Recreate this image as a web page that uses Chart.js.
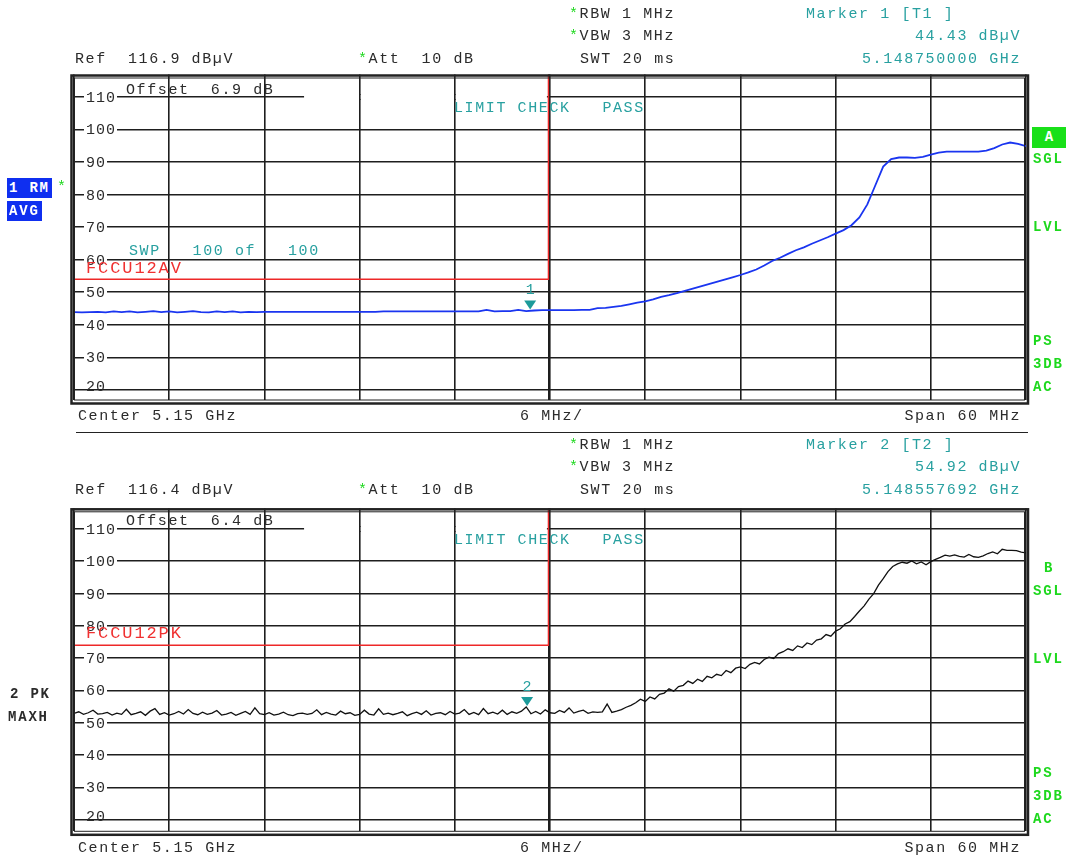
<!DOCTYPE html>
<html>
<head>
<meta charset="utf-8">
<script src="https://cdn.jsdelivr.net/npm/chart.js@4.4.1/dist/chart.umd.min.js"></script>
<style>
body { margin: 0; background: #fff; }
#screen { position: relative; width: 1068px; height: 861px; overflow: hidden; background: #fff; }
canvas { position: absolute; left: 0; }
.t { position: absolute; white-space: pre; font: 15px "Liberation Mono", monospace; letter-spacing: 1.6px; line-height: 16px; color: #2b2b2b; z-index: 2; }
.g { color: #1ed81e; }
.c { color: #28a0a0; }
.r { color: #f03030; font-size: 17px; letter-spacing: 1.9px; line-height: 18px; }
.s { font-weight: bold; font-size: 14px; letter-spacing: 1.8px; }
.box { background: #0f2ff0; color: #fff; padding: 0 2px; height: 20px; line-height: 20px; }
.gbox { background: #19e019; color: #fff; width: 34px; height: 21px; line-height: 21px; text-align: center; letter-spacing: 0; }
.sep { position: absolute; left: 76px; width: 952px; border-top: 1.6px solid #222; }
</style>
</head>
<body>
<div id="screen">
  <canvas id="trace1" width="1068" height="430" style="top:0"></canvas>
  <canvas id="trace2" width="1068" height="431" style="top:430px"></canvas>

  <!-- screen A: RMS average -->
  <div class="t" style="left:569px;top:7px"><span class="g">*</span>RBW 1 MHz</div>
  <div class="t" style="left:569px;top:29px"><span class="g">*</span>VBW 3 MHz</div>
  <div class="t" style="left:580px;top:52px">SWT 20 ms</div>
  <div class="t" style="left:75px;top:52px">Ref  116.9 dBµV</div>
  <div class="t" style="left:358px;top:52px"><span class="g">*</span>Att  10 dB</div>
  <div class="t c" style="left:806px;top:7px">Marker 1 [T1 ]</div>
  <div class="t c" style="right:47px;top:29px">44.43 dBµV</div>
  <div class="t c" style="right:47px;top:52px">5.148750000 GHz</div>
  <div class="t" style="left:126px;top:83px">Offset  6.9 dB</div>
  <div class="t c" style="left:454px;top:101px">LIMIT CHECK   PASS</div>
  <div class="t c" style="left:129px;top:244px">SWP   100 of   100</div>
  <div class="t r" style="left:86px;top:260px">FCCU12AV</div>
  <div class="t s box" style="left:7px;top:178px">1 RM</div>
  <div class="t s box" style="left:7px;top:201px">AVG</div>
  <div class="t g" style="left:57px;top:180px">*</div>
  <div class="t s gbox" style="left:1032px;top:127px">A</div>
  <div class="t s g" style="left:1033px;top:151px">SGL</div>
  <div class="t s g" style="left:1033px;top:219px">LVL</div>
  <div class="t s g" style="left:1033px;top:333px">PS</div>
  <div class="t s g" style="left:1033px;top:356px">3DB</div>
  <div class="t s g" style="left:1033px;top:379px">AC</div>
  <div class="t" style="left:78px;top:409px">Center 5.15 GHz</div>
  <div class="t" style="left:520px;top:409px">6 MHz/</div>
  <div class="t" style="right:47px;top:409px">Span 60 MHz</div>
  <div class="sep" style="top:432px"></div>

  <!-- screen B: max hold peak -->
  <div class="t" style="left:569px;top:438px"><span class="g">*</span>RBW 1 MHz</div>
  <div class="t" style="left:569px;top:460px"><span class="g">*</span>VBW 3 MHz</div>
  <div class="t" style="left:580px;top:483px">SWT 20 ms</div>
  <div class="t" style="left:75px;top:483px">Ref  116.4 dBµV</div>
  <div class="t" style="left:358px;top:483px"><span class="g">*</span>Att  10 dB</div>
  <div class="t c" style="left:806px;top:438px">Marker 2 [T2 ]</div>
  <div class="t c" style="right:47px;top:460px">54.92 dBµV</div>
  <div class="t c" style="right:47px;top:483px">5.148557692 GHz</div>
  <div class="t" style="left:126px;top:514px">Offset  6.4 dB</div>
  <div class="t c" style="left:454px;top:533px">LIMIT CHECK   PASS</div>
  <div class="t r" style="left:86px;top:625px">FCCU12PK</div>
  <div class="t s" style="left:10px;top:686px">2 PK</div>
  <div class="t s" style="left:8px;top:709px">MAXH</div>
  <div class="t s g" style="left:1044px;top:560px">B</div>
  <div class="t s g" style="left:1033px;top:583px">SGL</div>
  <div class="t s g" style="left:1033px;top:651px">LVL</div>
  <div class="t s g" style="left:1033px;top:765px">PS</div>
  <div class="t s g" style="left:1033px;top:788px">3DB</div>
  <div class="t s g" style="left:1033px;top:811px">AC</div>
  <div class="t" style="left:78px;top:841px">Center 5.15 GHz</div>
  <div class="t" style="left:520px;top:841px">6 MHz/</div>
  <div class="t" style="right:47px;top:841px">Span 60 MHz</div>
</div>

<script>
'use strict'

// sweep: offset from 5.15 GHz centre, MHz
var spanStart = -30;
var spanStop = 30;
var xGrid = [-30, -24, -18, -12, -6, 0, 6, 12, 18, 24, 30];
var levelTicks = [20, 30, 40, 50, 60, 70, 80, 90, 100, 110];

// trace 1, RMS average, dBµV (0.5 MHz steps)
var avgTrace = [
	43.9, 43.8, 43.9, 44.0, 43.8, 44.1, 43.9, 44.1, 43.8, 44.0, 44.2, 43.9, 44.1, 43.8, 44.0, 44.2, 43.9, 43.8, 44.1, 43.9,
	44.1, 43.8, 44.0, 43.9, 44.0, 44.0, 44.0, 44.0, 44.0, 44.0, 44.0, 44.0, 44.0, 44.0, 44.0, 44.0, 44.0, 44.0, 44.0, 44.1,
	44.1, 44.1, 44.1, 44.1, 44.1, 44.1, 44.1, 44.1, 44.1, 44.1, 44.1, 44.1, 44.6, 44.1, 44.2, 44.2, 44.6, 44.2, 44.4, 44.5,
	44.5, 44.5, 44.5, 44.5, 44.6, 44.6, 45.1, 45.2, 45.5, 45.8, 46.3, 46.8, 47.2, 47.8, 48.6, 49.1, 49.7, 50.4, 51.1, 51.8,
	52.5, 53.2, 53.9, 54.6, 55.3, 56.1, 57.0, 58.2, 59.6, 60.6, 61.8, 62.9, 63.8, 64.9, 65.9, 66.9, 68.0, 69.1, 70.6, 73.0,
	77.0, 82.8, 88.6, 90.9, 91.4, 91.4, 91.3, 91.6, 92.3, 92.9, 93.2, 93.2, 93.2, 93.2, 93.2, 93.5, 94.3, 95.4, 96.0, 95.6, 94.9
];

// trace 2, max hold peak, dBµV (0.3 MHz steps)
var pkTrace = [
	52.9, 53.4, 52.6, 53.1, 53.9, 52.7, 52.8, 53.2, 52.4, 53.0,
	52.6, 54.2, 52.5, 52.9, 53.4, 52.3, 53.6, 54.4, 52.6, 53.1,
	52.4, 52.8, 53.5, 52.7, 54.1, 52.9, 52.5, 53.3, 52.6, 53.0,
	53.8, 52.4, 52.7, 53.2, 52.3, 52.9, 53.5, 52.6, 54.6, 52.8,
	52.5, 53.1, 52.4, 52.7, 53.3, 52.5, 52.2, 52.8, 53.0, 52.6,
	52.9, 54.0, 52.5, 53.2, 52.7, 52.4, 53.6, 52.8, 53.1, 52.3,
	52.6, 53.9, 52.7, 52.4, 54.3, 52.6, 53.0, 52.5, 52.9, 53.4,
	52.2, 52.8, 53.3, 52.6, 53.7, 52.4, 52.9, 53.1, 52.5, 53.5,
	52.7, 53.0, 54.1, 52.6, 53.2, 52.5, 54.4, 52.8, 53.3, 52.7,
	53.9, 52.6, 53.4, 52.9, 53.6, 54.9, 52.8, 53.5, 52.7, 54.0,
	53.1, 52.9, 53.8, 53.2, 54.6, 53.0, 53.5, 53.9, 52.9, 53.4,
	53.2, 53.4, 55.8, 53.2,
	53.6, 54.1, 54.8, 55.4, 56.2, 57.3, 56.6, 58.0, 57.4, 58.8,
	59.2, 60.5, 59.8, 61.2, 61.6, 62.9, 62.2, 63.5, 62.8, 64.4,
	63.9, 65.0, 64.6, 66.2, 65.5, 66.9, 67.3, 66.8, 68.1, 68.7,
	68.2, 69.6, 70.3, 69.9, 71.4, 72.0, 72.9, 72.4, 73.8, 73.3,
	74.7, 74.2, 75.6, 76.0, 77.3, 76.8, 78.4, 79.1, 80.6, 81.3,
	82.9, 84.6, 86.2, 88.3, 90.0, 92.6, 94.6, 96.8, 98.4, 99.2,
	99.7, 99.4, 100.1, 99.2, 99.8, 98.9, 99.9, 100.6, 101.2, 101.9,
	101.6, 102.0, 101.5, 101.3, 102.1, 101.4, 101.2, 101.7, 102.4, 102.9,
	102.3, 103.7, 103.4, 103.4, 103.3, 102.8, 102.6
];

// limit lines (FCCU12AV / FCCU12PK) stop at the band edge
var limitEdge = -0.1;
var limitAv = 54;
var limitPk = 74;

// markers: MHz offset, dBµV
var marker1 = { freq: -1.25, level: 44.43, label: '1' };
var marker2 = { freq: -1.442308, level: 54.92, label: '2' };

var refLevel1 = 116.9;
var refLevel2 = 116.4;

var gridColor = '#1e1e1e';
var gridWidth = 1.6;

function sweepPoints(levels) {
	var step = (spanStop - spanStart) / (levels.length - 1);
	return levels.map(function(v, i) { return { x: spanStart + i * step, y: v }; });
}

var screenDeco = {
	id: 'screenDeco',
	beforeDatasetsDraw: function(chart) {
		var ctx = chart.ctx, a = chart.chartArea, x = chart.scales.x, y = chart.scales.y;
		ctx.save();
		// the 110 line is blanked between the offset box and the limit edge
		var yTop = y.getPixelForValue(levelTicks[levelTicks.length - 1]);
		var gapL = x.getPixelForValue(-15.5), gapR = x.getPixelForValue(limitEdge) - 1.5;
		ctx.fillStyle = '#fff';
		ctx.fillRect(gapL, yTop - 2, gapR - gapL, 4);
		// put back the verticals that cross the gap
		ctx.strokeStyle = gridColor;
		ctx.lineWidth = gridWidth;
		xGrid.forEach(function(v) {
			var px = x.getPixelForValue(v);
			if (px > gapL && px < gapR) {
				px = Math.round(px - gridWidth / 2) + gridWidth / 2;
				ctx.beginPath();
				ctx.moveTo(px, yTop - 3);
				ctx.lineTo(px, yTop + 3);
				ctx.stroke();
			}
		});

		// level labels inside the graticule
		ctx.font = '15px "Liberation Mono", monospace';
		if ('letterSpacing' in ctx) ctx.letterSpacing = '1px';
		ctx.textBaseline = 'middle';
		levelTicks.forEach(function(v, i) {
			var py = y.getPixelForValue(v) - (i === 0 ? 4 : 0);
			var txt = String(v);
			var w = ctx.measureText(txt).width;
			if (i > 0) {
				ctx.fillStyle = '#fff';
				ctx.fillRect(a.left + 10, py - 7, w + 3, 14);
			}
			ctx.fillStyle = '#2b2b2b';
			ctx.fillText(txt, a.left + 12, py + 1);
		});
		ctx.restore();
	},
	afterDatasetsDraw: function(chart, args, opts) {
		var ctx = chart.ctx, x = chart.scales.x, y = chart.scales.y;
		var m = opts.marker;
		var px = x.getPixelForValue(m.freq), py = y.getPixelForValue(m.level);
		ctx.save();
		ctx.fillStyle = '#1c9a9a';
		ctx.beginPath();
		ctx.moveTo(px - 6, py - 10);
		ctx.lineTo(px + 6, py - 10);
		ctx.lineTo(px, py - 1);
		ctx.closePath();
		ctx.fill();
		ctx.fillStyle = '#28a0a0';
		ctx.font = '15px "Liberation Mono", monospace';
		ctx.textAlign = 'center';
		ctx.textBaseline = 'middle';
		ctx.fillText(m.label, px, py - 20);
		ctx.restore();
	},
	afterDraw: function(chart) {
		// double frame
		var ctx = chart.ctx, a = chart.chartArea;
		ctx.save();
		ctx.strokeStyle = '#222';
		ctx.lineWidth = 2.5;
		ctx.strokeRect(a.left - 2.5, a.top + 1, a.right - a.left + 4.5, a.bottom - a.top + 2.5);
		ctx.lineWidth = 1;
		ctx.strokeRect(a.left + 0.5, a.top + 3.5, a.right - a.left - 2, a.bottom - a.top - 3.5);
		ctx.restore();
	}
};

function makeScreen(id, o) {
	return new Chart(document.getElementById(id), {
		type: 'line',
		data: {
			datasets: [{
				data: [{ x: spanStart, y: o.limit }, { x: limitEdge, y: o.limit }, { x: limitEdge, y: o.ref }],
				borderColor: '#ee2828',
				borderWidth: 1.4,
				pointRadius: 0
			}, {
				data: sweepPoints(o.levels),
				borderColor: o.color,
				borderWidth: o.width,
				pointRadius: 0,
				tension: 0
			}]
		},
		options: {
			responsive: false,
			animation: false,
			events: [],
			layout: { padding: o.pad },
			plugins: {
				legend: { display: false },
				tooltip: { enabled: false },
				screenDeco: { marker: o.marker }
			},
			scales: {
				x: {
					type: 'linear',
					min: spanStart,
					max: spanStop,
					afterBuildTicks: function(s) { s.ticks = xGrid.concat([limitEdge]).map(function(v) { return { value: v }; }); },
					ticks: { display: false },
					grid: { color: gridColor, lineWidth: gridWidth, drawTicks: false },
					border: { display: false }
				},
				y: {
					type: 'linear',
					min: o.ref - 100,
					max: o.ref,
					afterBuildTicks: function(s) { s.ticks = levelTicks.map(function(v) { return { value: v }; }); },
					ticks: { display: false },
					grid: { color: gridColor, lineWidth: gridWidth, drawTicks: false },
					border: { display: false }
				}
			}
		},
		plugins: [screenDeco]
	});
}

makeScreen('trace1', {
	levels: avgTrace, color: '#1a35f0', width: 1.8, ref: refLevel1, limit: limitAv, marker: marker1,
	pad: { left: 74, right: 42, top: 74.5, bottom: 30 }
});

makeScreen('trace2', {
	levels: pkTrace, color: '#111', width: 1.3, ref: refLevel2, limit: limitPk, marker: marker2,
	pad: { left: 74, right: 42, top: 78.3, bottom: 29.7 }
});
</script>
</body>
</html>
